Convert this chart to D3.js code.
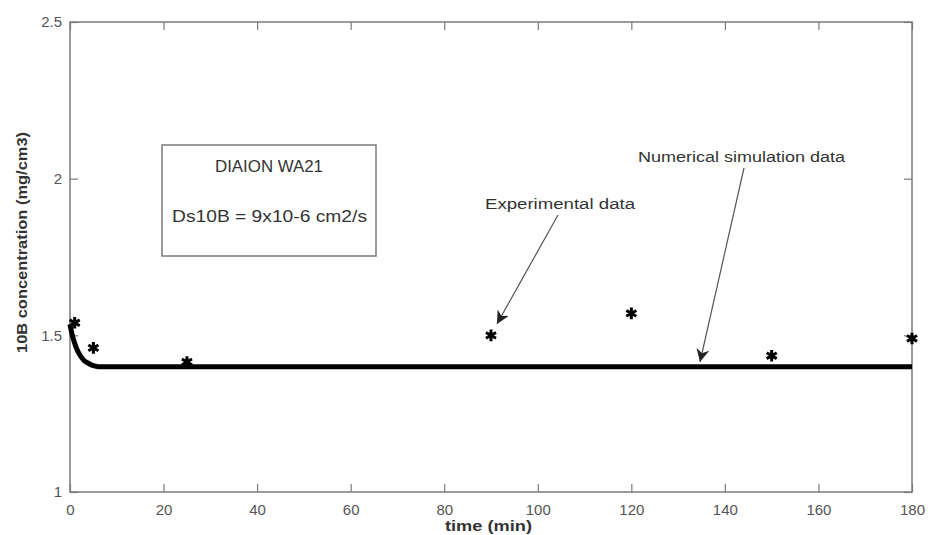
<!DOCTYPE html>
<html>
<head>
<meta charset="utf-8">
<script src="https://cdn.jsdelivr.net/npm/d3@7"></script>
<style>
  body { margin: 0; background: #fff; }
  svg { font-family: "Liberation Sans", Arial, sans-serif; }
</style>
</head>
<body>
<div id="chart"></div>
<script>
const width = 930;
const height = 535;
const margin = { top: 22, right: 18, bottom: 43, left: 70 };

// numerical simulation curve (time in min, concentration mg/cm3)
const simTime = [0, 0.5, 1, 1.5, 2, 3, 4, 5, 6, 8, 180];
const simConc = [1.535, 1.50, 1.475, 1.455, 1.44, 1.42, 1.41, 1.403, 1.40, 1.40, 1.40];

// experimental points
const expTime = [1, 5, 25, 90, 120, 150, 180];
const expConc = [1.54, 1.46, 1.415, 1.50, 1.57, 1.435, 1.49];

const xTicks = [0, 20, 40, 60, 80, 100, 120, 140, 160, 180];
const yTicks = [1, 1.5, 2, 2.5];

const svg = d3.select("#chart")
    .append("svg")
    .attr("width", width)
    .attr("height", height);

const x = d3.scaleLinear().domain([0, 180]).range([margin.left, width - margin.right]);
const y = d3.scaleLinear().domain([1, 2.5]).range([height - margin.bottom, margin.top]);

const axisColor = "#7a7a7a";
const tickLen = 8;

// frame
svg.append("rect")
    .attr("x", x(0))
    .attr("y", y(2.5))
    .attr("width", x(180) - x(0))
    .attr("height", y(1) - y(2.5))
    .attr("fill", "none")
    .attr("stroke", axisColor)
    .attr("stroke-width", 1.5);

// ticks inside on all four sides (matlab style)
const styleAxis = g => {
    g.select(".domain").remove();
    g.selectAll(".tick line").attr("stroke", axisColor).attr("stroke-width", 1.2);
    g.selectAll(".tick text").attr("fill", "#555").style("font-size", "15px");
};

svg.append("g")
    .attr("transform", `translate(0,${y(1)})`)
    .call(d3.axisBottom(x).tickValues(xTicks).tickSize(-tickLen).tickPadding(12).tickFormat(d3.format("d")))
    .call(styleAxis);

svg.append("g")
    .attr("transform", `translate(0,${y(2.5)})`)
    .call(d3.axisTop(x).tickValues(xTicks).tickSize(-tickLen).tickFormat(""))
    .call(styleAxis);

svg.append("g")
    .attr("transform", `translate(${x(0)},0)`)
    .call(d3.axisLeft(y).tickValues(yTicks).tickSize(-tickLen).tickPadding(8).tickFormat(d => d))
    .call(styleAxis);

svg.append("g")
    .attr("transform", `translate(${x(180)},0)`)
    .call(d3.axisRight(y).tickValues(yTicks).tickSize(-tickLen).tickFormat(""))
    .call(styleAxis);

// axis labels (source picture is stretched sideways, so widths are pinned)
svg.append("text")
    .attr("x", 445)
    .attr("y", 531)
    .attr("textLength", 87)
    .attr("lengthAdjust", "spacingAndGlyphs")
    .style("font-size", "14px")
    .style("font-weight", "bold")
    .attr("fill", "#333")
    .text("time (min)");

svg.append("text")
    .attr("transform", `translate(27,353) rotate(-90)`)
    .attr("textLength", 221)
    .attr("lengthAdjust", "spacingAndGlyphs")
    .style("font-size", "14px")
    .style("font-weight", "bold")
    .attr("fill", "#333")
    .text("10B concentration (mg/cm3)");

// simulation line
const simData = simTime.map((t, i) => [t, simConc[i]]);
svg.append("path")
    .datum(simData)
    .attr("d", d3.line().x(d => x(d[0])).y(d => y(d[1])).curve(d3.curveMonotoneX))
    .attr("fill", "none")
    .attr("stroke", "#000")
    .attr("stroke-width", 5);

// experimental stars
const star = d3.symbol().type(d3.symbolAsterisk).size(95);
svg.append("g")
    .selectAll("path")
    .data(expTime.map((t, i) => [t, expConc[i]]))
    .join("path")
    .attr("transform", d => `translate(${x(d[0])},${y(d[1])})`)
    .attr("d", star)
    .attr("fill", "none")
    .attr("stroke", "#000")
    .attr("stroke-width", 3);

// info box
svg.append("rect")
    .attr("x", 162)
    .attr("y", 145)
    .attr("width", 214)
    .attr("height", 111)
    .attr("fill", "#fff")
    .attr("stroke", axisColor)
    .attr("stroke-width", 1.5);

svg.append("text")
    .attr("x", 215).attr("y", 172)
    .attr("textLength", 108)
    .attr("lengthAdjust", "spacingAndGlyphs")
    .style("font-size", "16px")
    .attr("fill", "#333")
    .text("DIAION WA21");

svg.append("text")
    .attr("x", 172).attr("y", 222)
    .attr("textLength", 195)
    .attr("lengthAdjust", "spacingAndGlyphs")
    .style("font-size", "16px")
    .attr("fill", "#333")
    .text("Ds10B = 9x10-6 cm2/s");

// annotations with arrows
svg.append("defs").append("marker")
    .attr("id", "arrow")
    .attr("viewBox", "0 0 10 10")
    .attr("refX", 10).attr("refY", 5)
    .attr("markerWidth", 13).attr("markerHeight", 13)
    .attr("markerUnits", "userSpaceOnUse")
    .attr("orient", "auto")
    .append("path")
    .attr("d", "M0,0 L10,5 L0,10 L3,5 Z")
    .attr("fill", "#222");

const notes = [
    { text: "Experimental data", tx: 485, ty: 209, w: 150, x1: 558, y1: 215, x2: 497, y2: 324 },
    { text: "Numerical simulation data", tx: 638, ty: 162, w: 207, x1: 744, y1: 168, x2: 700, y2: 362 }
];

notes.forEach(n => {
    svg.append("text")
        .attr("x", n.tx).attr("y", n.ty)
        .attr("textLength", n.w)
        .attr("lengthAdjust", "spacingAndGlyphs")
        .style("font-size", "14px")
        .attr("fill", "#333")
        .text(n.text);
    svg.append("line")
        .attr("x1", n.x1).attr("y1", n.y1)
        .attr("x2", n.x2).attr("y2", n.y2)
        .attr("stroke", "#555")
        .attr("stroke-width", 1.2)
        .attr("marker-end", "url(#arrow)");
});
</script>
</body>
</html>
